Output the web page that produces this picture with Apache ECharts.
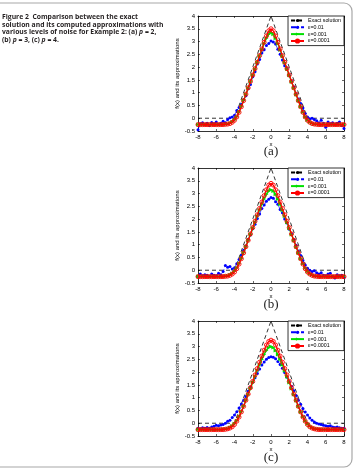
<!DOCTYPE html>
<html>
<head>
<meta charset="utf-8">
<script src="https://cdn.jsdelivr.net/npm/echarts@6/dist/echarts.min.js"></script>
<style>
  html, body { margin: 0; padding: 0; background: #fff; }
  #main { width: 355px; height: 470px; }
</style>
</head>
<body>
<div id="main"></div>
<script>
// x grid used by all approximations (step 0.25)
var xs = [-8,-7.75,-7.5,-7.25,-7,-6.75,-6.5,-6.25,-6,-5.75,-5.5,-5.25,-5,-4.75,-4.5,-4.25,-4,-3.75,-3.5,-3.25,-3,-2.75,-2.5,-2.25,-2,-1.75,-1.5,-1.25,-1,-0.75,-0.5,-0.25,0,0.25,0.5,0.75,1,1.25,1.5,1.75,2,2.25,2.5,2.75,3,3.25,3.5,3.75,4,4.25,4.5,4.75,5,5.25,5.5,5.75,6,6.25,6.5,6.75,7,7.25,7.5,7.75,8];

// exact solution (hat function)
var exactX = [-8, -4, 0, 4, 8];
var exactY = [0, 0, 4, 0, 0];

var seriesNames = ['Exact solution', 'ε=0.01', 'ε=0.001', 'ε=0.0001'];
var panelLabels = ['(a)', '(b)', '(c)'];

// (a) p = 2
var blueA = [-0.45,-0.22,-0.18,-0.25,-0.2,-0.28,-0.17,-0.22,-0.15,-0.25,-0.2,-0.12,-0.18,-0.05,0.02,0.05,0.12,0.3,0.42,0.55,0.72,0.88,1.15,1.32,1.62,1.82,2.12,2.3,2.55,2.68,2.85,2.92,3.02,2.98,2.9,2.7,2.5,2.28,2.05,1.95,1.68,1.45,1.22,0.95,0.75,0.58,0.4,0.18,0.05,-0.02,0.0,-0.05,-0.1,-0.18,-0.08,-0.2,-0.35,-0.15,-0.22,-0.18,-0.25,-0.2,-0.15,-0.28,-0.4];
var greenA = [-0.25,-0.25,-0.25,-0.25,-0.25,-0.25,-0.25,-0.25,-0.25,-0.25,-0.25,-0.25,-0.24,-0.23,-0.2,-0.15,-0.07,0.06,0.24,0.46,0.69,0.93,1.18,1.43,1.68,1.93,2.18,2.43,2.68,2.92,3.13,3.29,3.35,3.29,3.13,2.92,2.68,2.43,2.18,1.93,1.68,1.43,1.18,0.93,0.69,0.46,0.24,0.06,-0.07,-0.15,-0.2,-0.23,-0.24,-0.25,-0.25,-0.25,-0.25,-0.25,-0.25,-0.25,-0.25,-0.25,-0.25,-0.25,-0.25];
var redA = [-0.25,-0.25,-0.25,-0.25,-0.25,-0.25,-0.25,-0.25,-0.25,-0.25,-0.25,-0.25,-0.24,-0.23,-0.21,-0.16,-0.08,0.05,0.23,0.45,0.69,0.94,1.19,1.44,1.69,1.94,2.19,2.45,2.71,2.97,3.22,3.42,3.5,3.42,3.22,2.97,2.71,2.45,2.19,1.94,1.69,1.44,1.19,0.94,0.69,0.45,0.23,0.05,-0.08,-0.16,-0.21,-0.23,-0.24,-0.25,-0.25,-0.25,-0.25,-0.25,-0.25,-0.25,-0.25,-0.25,-0.25,-0.25,-0.25];

// (b) p = 3
var blueB = [-0.25,-0.15,-0.22,-0.18,-0.2,-0.25,-0.15,-0.2,-0.22,-0.12,-0.18,-0.05,0.18,0.12,0.15,0.05,0.1,0.25,0.42,0.6,0.78,0.95,1.2,1.38,1.62,1.8,2.02,2.2,2.42,2.55,2.7,2.78,2.85,2.82,2.68,2.58,2.38,2.25,2.0,1.85,1.6,1.42,1.18,0.98,0.75,0.58,0.38,0.2,0.08,0.0,-0.05,-0.02,-0.1,-0.15,-0.1,-0.2,-0.22,-0.15,-0.12,-0.25,-0.3,-0.18,-0.22,-0.2,-0.28];
var greenB = [-0.25,-0.25,-0.25,-0.25,-0.25,-0.25,-0.25,-0.25,-0.25,-0.25,-0.25,-0.25,-0.24,-0.22,-0.19,-0.13,-0.04,0.09,0.26,0.46,0.68,0.92,1.16,1.4,1.64,1.88,2.12,2.36,2.58,2.79,2.97,3.1,3.15,3.1,2.97,2.79,2.58,2.36,2.12,1.88,1.64,1.4,1.16,0.92,0.68,0.46,0.26,0.09,-0.04,-0.13,-0.19,-0.22,-0.24,-0.25,-0.25,-0.25,-0.25,-0.25,-0.25,-0.25,-0.25,-0.25,-0.25,-0.25,-0.25];
var redB = [-0.25,-0.25,-0.25,-0.25,-0.25,-0.25,-0.25,-0.25,-0.25,-0.25,-0.25,-0.25,-0.24,-0.23,-0.2,-0.15,-0.07,0.06,0.24,0.45,0.68,0.92,1.17,1.42,1.67,1.92,2.17,2.42,2.67,2.92,3.15,3.33,3.4,3.33,3.15,2.92,2.67,2.42,2.17,1.92,1.67,1.42,1.17,0.92,0.68,0.45,0.24,0.06,-0.07,-0.15,-0.2,-0.23,-0.24,-0.25,-0.25,-0.25,-0.25,-0.25,-0.25,-0.25,-0.25,-0.25,-0.25,-0.25,-0.25];

// (c) p = 4
var blueC = [-0.2,-0.22,-0.18,-0.2,-0.17,-0.2,-0.15,-0.12,-0.08,-0.1,-0.07,-0.05,0.0,0.08,0.12,0.22,0.32,0.45,0.6,0.75,0.9,1.05,1.25,1.42,1.6,1.78,1.95,2.12,2.28,2.4,2.5,2.57,2.6,2.58,2.52,2.42,2.3,2.15,1.98,1.8,1.62,1.45,1.27,1.08,0.9,0.74,0.58,0.44,0.32,0.2,0.12,0.05,0.0,-0.03,-0.05,-0.08,-0.1,-0.12,-0.1,-0.15,-0.17,-0.15,-0.18,-0.2,-0.2];
var greenC = [-0.25,-0.25,-0.25,-0.25,-0.25,-0.25,-0.25,-0.25,-0.25,-0.25,-0.25,-0.24,-0.23,-0.21,-0.17,-0.11,-0.02,0.1,0.26,0.45,0.66,0.89,1.12,1.36,1.59,1.83,2.06,2.29,2.5,2.69,2.85,2.96,3.0,2.96,2.85,2.69,2.5,2.29,2.06,1.83,1.59,1.36,1.12,0.89,0.66,0.45,0.26,0.1,-0.02,-0.11,-0.17,-0.21,-0.23,-0.24,-0.25,-0.25,-0.25,-0.25,-0.25,-0.25,-0.25,-0.25,-0.25,-0.25,-0.25];
var redC = [-0.25,-0.25,-0.25,-0.25,-0.25,-0.25,-0.25,-0.25,-0.25,-0.25,-0.25,-0.25,-0.24,-0.22,-0.19,-0.14,-0.05,0.08,0.24,0.44,0.66,0.9,1.14,1.39,1.64,1.89,2.14,2.39,2.63,2.86,3.06,3.2,3.25,3.2,3.06,2.86,2.63,2.39,2.14,1.89,1.64,1.39,1.14,0.9,0.66,0.44,0.24,0.08,-0.05,-0.14,-0.19,-0.22,-0.24,-0.25,-0.25,-0.25,-0.25,-0.25,-0.25,-0.25,-0.25,-0.25,-0.25,-0.25,-0.25];

var panels = [
  { blue: blueA, green: greenA, red: redA },
  { blue: blueB, green: greenB, red: redB },
  { blue: blueC, green: greenC, red: redC }
];

var gridTops = [16, 168, 321];
var gridLeft = 198, gridW = 146, gridH = 115;
var axisFont = 'Liberation Sans';

function zip(xv, yv) {
  var out = [];
  for (var i = 0; i < yv.length; i++) out.push([xv[i], yv[i]]);
  return out;
}

function boxAxis(extra) {
  // matlab style axis: black line, small ticks pointing inward
  var ax = {
    type: 'value',
    axisLine: { show: true, onZero: false, lineStyle: { color: '#000', width: 0.8 } },
    axisTick: { show: true, inside: true, length: 2, lineStyle: { color: '#000', width: 0.6 } },
    axisLabel: { fontSize: 6, fontFamily: axisFont, color: '#000', margin: 3 },
    splitLine: { show: false }
  };
  for (var key in extra) ax[key] = extra[key];
  return ax;
}

function getOption() {
  var grid = [], xAxis = [], yAxis = [], series = [], legend = [], graphic = [];

  for (var k = 0; k < 3; k++) {
    grid.push({ left: gridLeft, top: gridTops[k], width: gridW, height: gridH });

    xAxis.push(boxAxis({
      gridIndex: k, min: -8, max: 8, interval: 2, position: 'bottom',
      name: 'x', nameLocation: 'middle', nameGap: 8,
      nameTextStyle: { fontSize: 6, fontFamily: axisFont, color: '#000' }
    }));
    xAxis.push(boxAxis({
      gridIndex: k, min: -8, max: 8, interval: 2, position: 'top',
      axisLabel: { show: false }
    }));
    yAxis.push(boxAxis({
      gridIndex: k, min: -0.5, max: 4, interval: 0.5, position: 'left',
      name: 'f(x) and its approximations', nameLocation: 'middle', nameGap: 17,
      nameTextStyle: { fontSize: 6, fontFamily: axisFont, color: '#000' }
    }));
    yAxis.push(boxAxis({
      gridIndex: k, min: -0.5, max: 4, interval: 0.5, position: 'right',
      axisLabel: { show: false }
    }));

    var p = panels[k];
    series.push({
      name: seriesNames[0], type: 'line', xAxisIndex: 2 * k, yAxisIndex: 2 * k,
      data: zip(exactX, exactY), symbol: 'none',
      lineStyle: { color: '#000', width: 0.8, type: [4, 3] }, itemStyle: { color: '#000' }, z: 2
    });
    series.push({
      name: seriesNames[1], type: 'line', xAxisIndex: 2 * k, yAxisIndex: 2 * k,
      data: zip(xs, p.blue), symbol: 'circle', symbolSize: 3,
      lineStyle: { color: '#0000ff', width: 0.7, type: [5, 2, 1, 2] }, itemStyle: { color: '#0000ff' }, z: 3
    });
    series.push({
      name: seriesNames[2], type: 'line', xAxisIndex: 2 * k, yAxisIndex: 2 * k,
      data: zip(xs, p.green), symbol: 'triangle', symbolSize: 4, symbolRotate: -90,
      lineStyle: { color: '#00e000', width: 1.4 }, itemStyle: { color: '#00e000' }, z: 4
    });
    series.push({
      name: seriesNames[3], type: 'line', xAxisIndex: 2 * k, yAxisIndex: 2 * k,
      data: zip(xs, p.red), symbol: 'circle', symbolSize: 4,
      lineStyle: { color: '#ff0000', width: 1.2 },
      itemStyle: { color: 'rgba(255,255,255,0)', borderColor: '#ff0000', borderWidth: 0.9 }, z: 5
    });

    legend.push({
      data: seriesNames, orient: 'vertical', right: 355 - gridLeft - gridW, top: gridTops[k],
      backgroundColor: '#fff', borderColor: '#000', borderWidth: 0.8,
      padding: [2, 3, 2, 2], itemGap: 1.8, itemWidth: 13, itemHeight: 4,
      textStyle: { fontSize: 5.3, fontFamily: axisFont, color: '#000', padding: [0, 0, 0, -1] },
      selectedMode: false
    });

    graphic.push({
      type: 'text', x: gridLeft + gridW / 2, y: [152, 305, 458][k],
      style: { text: panelLabels[k], font: '13px "Liberation Serif"', fill: '#222', align: 'center', verticalAlign: 'middle' }
    });
  }

  // page frame + caption
  graphic.push({
    type: 'rect', shape: { x: -12, y: 3, width: 364, height: 464, r: 8 },
    style: { fill: 'none', stroke: '#a8a8a8', lineWidth: 1.2 }, z: -1
  });
  graphic.push({
    type: 'text', x: 2, y: 13,
    style: {
      text: '{b|Figure 2  Comparison between the exact}\n{b|solution and its computed approximations with}\n{b|various levels of noise for Example 2: (a) }{i|p}{b| = 2,}\n{b|(b) }{i|p}{b| = 3, (c) }{i|p}{b| = 4.}',
      rich: {
        b: { fontFamily: 'Open Sans', fontWeight: 'bold', fontSize: 6.8, lineHeight: 7.8, fill: '#231f20' },
        i: { fontFamily: 'Open Sans', fontWeight: 'bold', fontStyle: 'italic', fontSize: 6.8, lineHeight: 7.8, fill: '#231f20' }
      }
    }
  });

  return {
    animation: false,
    backgroundColor: '#fff',
    grid: grid, xAxis: xAxis, yAxis: yAxis,
    legend: legend, series: series, graphic: graphic
  };
}

var chart = echarts.init(document.getElementById('main'), null, { renderer: 'canvas' });
chart.setOption(getOption());
</script>
</body>
</html>
